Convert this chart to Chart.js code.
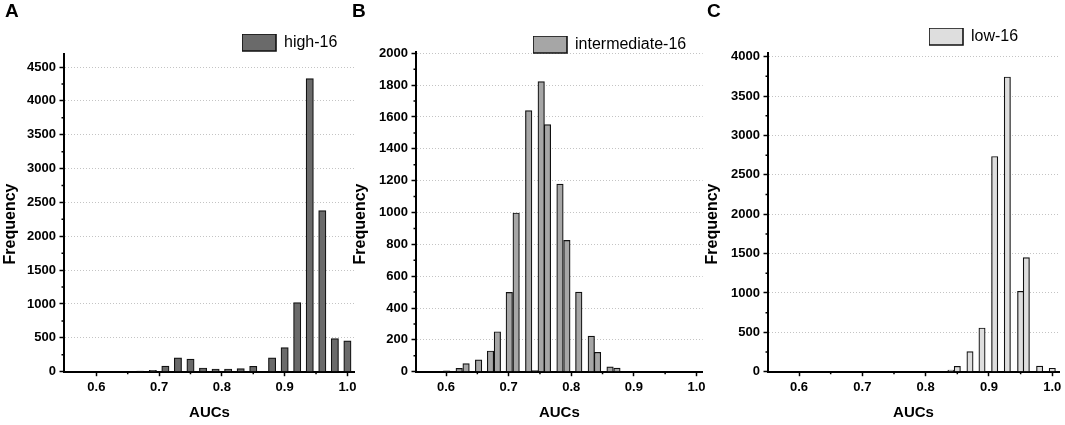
<!DOCTYPE html>
<html>
<head>
<meta charset="utf-8">
<script src="https://cdn.jsdelivr.net/npm/chart.js@4.4.1/dist/chart.umd.min.js"></script>
<style>
  body { margin: 0; background: #fff; }
  #wrap { position: relative; width: 1065px; height: 425px; overflow: hidden; }
  .panel { position: absolute; top: 0; height: 425px; }
</style>
</head>
<body>
<div id="wrap">
  <div class="panel" style="left:0;width:360px"><canvas id="chartA"></canvas></div>
  <div class="panel" style="left:348px;width:361px"><canvas id="chartB"></canvas></div>
  <div class="panel" style="left:703px;width:362px"><canvas id="chartC"></canvas></div>
</div>
<script>
// AUC bin centres and frequencies
var aucHigh  = [0.67, 0.69, 0.71, 0.73, 0.75, 0.77, 0.79, 0.81, 0.83, 0.85, 0.88, 0.90, 0.92, 0.94, 0.96, 0.98, 1.00];
var freqHigh = [10, 20, 82, 205, 186, 55, 40, 40, 45, 80, 205, 355, 1020, 4330, 2380, 490, 455];

var aucMid  = [0.601, 0.621, 0.632, 0.652, 0.671, 0.682, 0.701, 0.712, 0.732, 0.742, 0.752, 0.762, 0.782, 0.793, 0.812, 0.832, 0.842, 0.862, 0.873];
var freqMid = [5, 21, 51, 74, 130, 251, 498, 997, 1640, 7, 1822, 1552, 1178, 825, 500, 224, 122, 31, 23];

var aucLow  = [0.840, 0.850, 0.870, 0.889, 0.909, 0.929, 0.950, 0.959, 0.980, 1.000];
var freqLow = [21, 68, 256, 555, 2733, 3742, 1021, 1449, 72, 44];

var xTickLabels = [0.6, 0.7, 0.8, 0.9, 1.0];
var yTicksHigh = [0, 500, 1000, 1500, 2000, 2500, 3000, 3500, 4000, 4500];
var yTicksMid  = [0, 200, 400, 600, 800, 1000, 1200, 1400, 1600, 1800, 2000];
var yTicksLow  = [0, 500, 1000, 1500, 2000, 2500, 3000, 3500, 4000];

var fontFamily = "'Liberation Sans', Arial, sans-serif";
Chart.defaults.font.family = fontFamily;
Chart.defaults.color = '#000';

function toPoints(xs, ys) {
  return xs.map(function(x, i) { return {x: x, y: ys[i]}; });
}

function midpoints(ticks) {
  var out = [];
  for (var i = 1; i < ticks.length; i++) {
    out.push((ticks[i - 1].value + ticks[i].value) / 2);
  }
  return out;
}

// moves the legend, draws minor ticks and the rotated y title
var extras = {
  id: 'extras',
  afterLayout: function(chart, args, o) {
    var lg = chart.legend;
    var w = lg.width, h = lg.height;
    lg.left = o.legendX; lg.top = o.legendY;
    lg.right = o.legendX + w; lg.bottom = o.legendY + h;
  },
  afterDraw: function(chart, args, o) {
    var ctx = chart.ctx;
    var xs = chart.scales.x, ys = chart.scales.y;
    ctx.save();
    ctx.strokeStyle = '#000';
    ctx.lineWidth = 1.5;
    ctx.beginPath();
    midpoints(xs.ticks).forEach(function(v) {
      var px = xs.getPixelForValue(v);
      ctx.moveTo(px, xs.top);
      ctx.lineTo(px, xs.top + 2.5);
    });
    midpoints(ys.ticks).forEach(function(v) {
      var py = ys.getPixelForValue(v);
      ctx.moveTo(ys.right, py);
      ctx.lineTo(ys.right - 2.5, py);
    });
    ctx.stroke();

    ctx.translate(o.yTitleX, 224);
    ctx.rotate(-Math.PI / 2);
    ctx.font = 'bold 16px ' + fontFamily;
    ctx.fillStyle = '#000';
    ctx.textAlign = 'center';
    ctx.textBaseline = 'middle';
    ctx.fillText('Frequency', 0, 0);
    ctx.restore();
  }
};

function makePanel(id, cfg) {
  return new Chart(document.getElementById(id), {
    type: 'bar',
    data: {
      datasets: [{
        label: cfg.label,
        data: toPoints(cfg.x, cfg.y),
        backgroundColor: cfg.color,
        borderColor: '#111',
        borderWidth: 1.2,
        barThickness: cfg.barWidth
      }]
    },
    options: {
      responsive: true,
      maintainAspectRatio: false,
      animation: false,
      layout: { padding: { left: cfg.padLeft, right: cfg.padRight, top: 0, bottom: 0 } },
      plugins: {
        title: {
          display: true, text: cfg.letter, align: 'start', color: '#000',
          font: { size: 19, weight: 'bold' },
          padding: { top: 0, bottom: cfg.titleGap }
        },
        legend: {
          position: 'chartArea', align: 'start',
          labels: {
            boxWidth: 34, boxHeight: 17, padding: 0, color: '#000',
            font: { size: 16 },
            generateLabels: function(c) {
              return Chart.defaults.plugins.legend.labels.generateLabels(c).map(function(l) {
                l.lineWidth = 1.6; return l;
              });
            }
          }
        },
        tooltip: { enabled: false },
        extras: { legendX: cfg.legendX, legendY: cfg.legendY, yTitleX: cfg.yTitleX }
      },
      scales: {
        x: {
          type: 'linear', min: cfg.xMin, max: cfg.xMax, bounds: 'data', offset: false,
          afterBuildTicks: function(s) { s.ticks = xTickLabels.map(function(v) { return {value: v}; }); },
          afterFit: function(s) { s.height = 425 - 371.7; },
          grid: { offset: false, drawOnChartArea: false, tickLength: 4.5, tickColor: '#000', tickWidth: 1.5 },
          border: { color: '#000', width: 2 },
          ticks: {
            autoSkip: false, maxRotation: 0, padding: 3.5,
            font: { size: 13, weight: 'bold' },
            callback: function(v) { return v.toFixed(1); }
          },
          title: { display: true, text: 'AUCs', font: { size: 15, weight: 'bold' }, padding: { top: 0, bottom: 3.5 } }
        },
        y: {
          min: 0, max: cfg.yMax, bounds: 'data',
          afterBuildTicks: function(s) { s.ticks = cfg.yTicks.map(function(v) { return {value: v}; }); },
          afterFit: function(s) { s.width = cfg.axisWidth; },
          grid: {
            color: function(c) { return c.tick && c.tick.value === 0 ? 'rgba(0,0,0,0)' : '#c4c4c4'; },
            lineWidth: 1, tickLength: 4.5, tickColor: '#000', tickWidth: 1.5
          },
          border: { color: '#000', width: 2, dash: [1, 2] },
          ticks: {
            autoSkip: false, padding: 3.5,
            font: { size: 13, weight: 'bold' },
            callback: function(v) { return String(v); }
          }
        }
      }
    },
    plugins: [extras]
  });
}

makePanel('chartA', {
  letter: 'A', label: 'high-16', x: aucHigh, y: freqHigh, color: '#6a6a6a', barWidth: 7.3,
  padLeft: 5, padRight: 2, axisWidth: 59, xMin: 0.5485, xMax: 1.012, yMax: 4700, yTicks: yTicksHigh,
  titleGap: 30.7, legendX: 242, legendY: 34, yTitleX: 10.5
});
makePanel('chartB', {
  letter: 'B', label: 'intermediate-16', x: aucMid, y: freqMid, color: '#a6a6a6', barWidth: 6.5,
  padLeft: 4, padRight: 1, axisWidth: 64, xMin: 0.552, xMax: 1.010, yMax: 2008, yTicks: yTicksMid,
  titleGap: 29.2, legendX: 185, legendY: 36, yTitleX: 12.5
});
makePanel('chartC', {
  letter: 'C', label: 'low-16', x: aucLow, y: freqLow, color: '#dedede', barWidth: 6.3,
  padLeft: 4, padRight: 6, axisWidth: 61, xMin: 0.551, xMax: 1.0106, yMax: 4043, yTicks: yTicksLow,
  titleGap: 30.5, legendX: 226, legendY: 28, yTitleX: 9.5
});
</script>
</body>
</html>
